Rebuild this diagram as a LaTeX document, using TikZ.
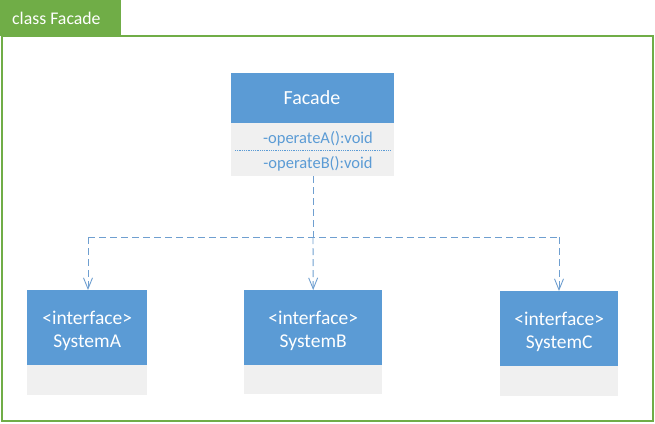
\documentclass[tikz,border=0pt]{standalone}
\usepackage{fontspec}
\setmainfont{Carlito}
\usetikzlibrary{arrows.meta}
\definecolor{umlblue}{HTML}{5B9BD5}
\definecolor{umlgray}{HTML}{F0F0F0}
\definecolor{umlgreen}{HTML}{70AD47}
\definecolor{connblue}{HTML}{6F9FD0}
\tikzset{
  head/.style={fill=umlblue, inner sep=0pt, anchor=north west},
  headtext/.style={text=white, inner sep=0pt, align=center, font=\fontsize{19.5}{23}\selectfont},
  body/.style={fill=umlgray, inner sep=0pt, anchor=north west},
  member/.style={text=umlblue, inner sep=0pt, font=\fontsize{16.5}{19}\selectfont},
  conn/.style={draw=connblue, line width=0.9pt, dash pattern=on 7pt off 4pt},
  tip/.style={-{Straight Barb[length=11pt,width=9pt,line width=0.9pt]}}
}
\begin{document}
\begin{tikzpicture}[x=1pt,y=-1pt]
\useasboundingbox (0,0) rectangle (655,423);
% frame
\draw[umlgreen, line width=1.3pt] (2,36) rectangle (653,421);
\node[fill=umlgreen, anchor=north west, minimum width=121pt, minimum height=36pt, inner sep=0pt] (tab) at (0,0) {};
\node[text=white, anchor=west, inner sep=0pt, font=\fontsize{17.8}{21}\selectfont] (tabtext) at (12,18) {class Facade};
% Facade
\node[head, minimum width=163pt, minimum height=50pt] (fh) at (231,73) {};
\node[headtext, font=\fontsize{20}{24}\selectfont] (fht) at (312,98) {Facade};
\node[body, minimum width=163pt, minimum height=53pt] (fb) at (231,123) {};
\node[member] (opa) at (318,139) {-operateA():void};
\node[member] (opb) at (318,164) {-operateB():void};
\coordinate (dl) at (235,150);
\coordinate (dr) at (390,150);
\draw[umlblue, line width=0.7pt, dash pattern=on 1pt off 0.8pt] (dl) -- (dr);
% Systems
\node[head, minimum width=120pt, minimum height=75pt] (sa) at (27,290) {};
\node[body, minimum width=120pt, minimum height=30pt] (sab) at (27,365) {};
\node[headtext] (sat) at ([yshift=-3pt]sa.center) {<interface>\\SystemA};
\node[head, minimum width=138pt, minimum height=75pt] (sb) at (244,290) {};
\node[body, minimum width=138pt, minimum height=29pt] (sbb) at (244,365) {};
\node[headtext] (sbt) at ([yshift=-3pt]sb.center) {<interface>\\SystemB};
\node[head, minimum width=118pt, minimum height=75pt] (sc) at (500,291) {};
\node[body, minimum width=118pt, minimum height=30pt] (scb) at (500,366) {};
\node[headtext] (sct) at ([yshift=-3pt]sc.center) {<interface>\\SystemC};
% connectors
\coordinate (j) at (313,237);
\coordinate (fbot) at (313,176);
\coordinate (ja) at (88,237);
\coordinate (jc) at (559,237);
\coordinate (ta) at (88,290);
\coordinate (tc) at (559,291);
\draw[conn] (fbot) -- (j);
\draw[conn, tip] (j) -- (sb.north);
\draw[conn] (ja) -- (jc);
\draw[conn, tip] (ja) -- (ta);
\draw[conn, tip] (jc) -- (tc);
\end{tikzpicture}
\end{document}
